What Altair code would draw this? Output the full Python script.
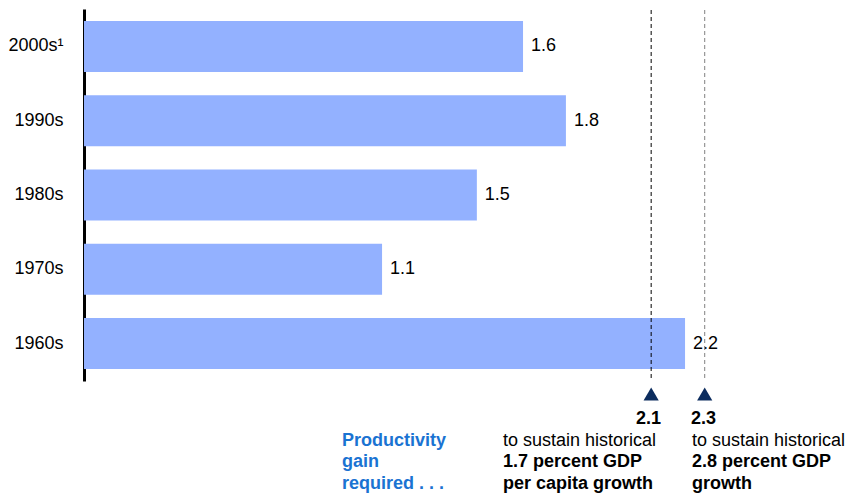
import altair as alt
import pandas as pd

# ---- data ----
decades = ["2000s¹", "1990s", "1980s", "1970s", "1960s"]
gains = [1.607, 1.764, 1.438, 1.091, 2.2]
gain_labels = ["1.6", "1.8", "1.5", "1.1", "2.2"]
required = [2.076, 2.272]
required_labels = ["2.1", "2.3"]
required_kind = ["per capita", "total"]
lead_lines = ["Productivity", "gain", "required . . ."]
left_note = ["to sustain historical", "1.7 percent GDP", "per capita growth"]
right_note = ["to sustain historical", "2.8 percent GDP", "growth"]

FONT = "Liberation Sans"
FS = 18
LEFT, TOP = 84, 9
W, H = 856 - LEFT, 372
PX_PER_UNIT = 273.2

df = pd.DataFrame({"decade": decades, "gain": gains, "label": gain_labels})
req = pd.DataFrame({"req": required, "label": required_labels, "kind": required_kind})

xscale = alt.Scale(domain=[0, W / PX_PER_UNIT], nice=False, zero=True)
yscale = alt.Scale(domain=decades, paddingInner=0.313, paddingOuter=0.16)

base = alt.Chart(df)
bars = base.mark_bar(color="#93b1ff").encode(
    x=alt.X("gain:Q", scale=xscale, axis=None),
    y=alt.Y(
        "decade:N",
        scale=yscale,
        sort=decades,
        axis=alt.Axis(
            title=None, domain=True, domainColor="black", domainWidth=3,
            ticks=False, grid=False, labelFontSize=FS, labelFont=FONT,
            labelColor="black", labelPadding=21,
        ),
    ),
)
bar_text = base.mark_text(align="left", baseline="middle", dx=8, fontSize=FS,
                          font=FONT, color="black").encode(
    x=alt.X("gain:Q", scale=xscale),
    y=alt.Y("decade:N", scale=yscale, sort=decades),
    text="label:N",
)

rbase = alt.Chart(req)
rules = rbase.mark_rule(strokeDash=[4, 3], strokeWidth=1).encode(
    x=alt.X("req:Q", scale=xscale),
    y=alt.value(1),
    y2=alt.value(H),
    color=alt.Color("kind:N", scale=alt.Scale(domain=required_kind,
                                               range=["#000000", "#808080"]),
                    legend=None),
)
tris = rbase.mark_point(shape="triangle-up", filled=True, size=230,
                        color="#0c2c5e", opacity=1).encode(
    x=alt.X("req:Q", scale=xscale),
    y=alt.value(394 - TOP),
)

one = pd.DataFrame({"k": [0]})


def txt(s, px, py, bold=False, color="black", align="left"):
    return alt.Chart(one).mark_text(
        align=align, baseline="alphabetic", fontSize=FS, font=FONT,
        fontWeight="bold" if bold else "normal", color=color,
    ).encode(x=alt.value(px - LEFT), y=alt.value(py - TOP), text=alt.value(s))


ys = [446, 467, 489]
notes = []
for s, py in zip(lead_lines, ys):
    notes.append(txt(s, 342, py, bold=True, color="#1a73d2"))
for i, (s, py) in enumerate(zip(left_note, ys)):
    notes.append(txt(s, 503, py, bold=(i > 0)))
for i, (s, py) in enumerate(zip(right_note, ys)):
    notes.append(txt(s, 692, py, bold=(i > 0)))
notes.append(txt(required_labels[0], 661, 424, bold=True, align="right"))
notes.append(txt(required_labels[1], 691, 424, bold=True))

chart = alt.layer(bars, bar_text, rules, tris, *notes).properties(
    width=W, height=H,
    autosize=alt.AutoSizeParams(type="none"),
    padding={"left": LEFT, "top": TOP, "right": 0, "bottom": 494 - TOP - H},
    background="white",
).configure_view(stroke=None).configure_text(font=FONT)

chart.save("out.html", embed_options={"renderer": "svg", "actions": False})
